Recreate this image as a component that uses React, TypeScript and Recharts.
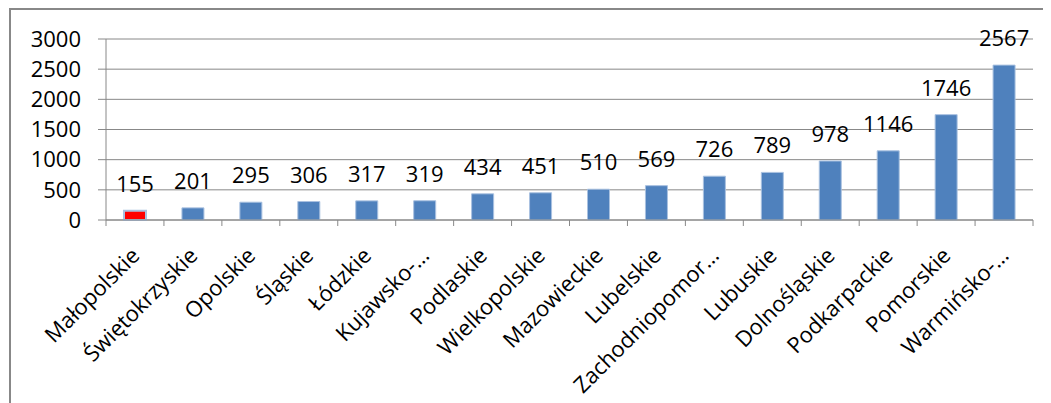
import React from 'react'
import { BarChart, Bar, XAxis, YAxis, CartesianGrid, LabelList, Cell } from 'recharts'

const regions = [
  'Małopolskie',
  'Świętokrzyskie',
  'Opolskie',
  'Śląskie',
  'Łódzkie',
  'Kujawsko-…',
  'Podlaskie',
  'Wielkopolskie',
  'Mazowieckie',
  'Lubelskie',
  'Zachodniopomor…',
  'Lubuskie',
  'Dolnośląskie',
  'Podkarpackie',
  'Pomorskie',
  'Warmińsko-…',
]
const counts = [155, 201, 295, 306, 317, 319, 434, 451, 510, 569, 726, 789, 978, 1146, 1746, 2567]
const yTicks = [0, 500, 1000, 1500, 2000, 2500, 3000]

const data = regions.map((name, i) => ({ name, value: counts[i] }))

const FONT = '"Open Sans", sans-serif'
const GRAY = '#888888'
const W = 1040
const H = 393
const M = { top: 29, right: 18, left: 0, bottom: 0 }
const Y_W = 95
const BAND = (W - M.right - Y_W) / regions.length

function RegionTick(props: any) {
  const { x, y, payload, index } = props
  const half = payload && payload.offset > 0 ? payload.offset : BAND / 2
  return (
    <g>
      <line x1={x - half} x2={x - half} y1={y - 8} y2={y - 2} stroke={GRAY} />
      {index === regions.length - 1 && (
        <line x1={x + half} x2={x + half} y1={y - 8} y2={y - 2} stroke={GRAY} />
      )}
      <text
        transform={`translate(${x + 6},${y + 29}) rotate(-45)`}
        textAnchor="end"
        fontFamily={FONT}
        fontSize={22}
        fill="#000"
      >
        {payload.value}
      </text>
    </g>
  )
}

export default function App() {
  return (
    <div
      style={{
        marginLeft: 1,
        width: 1042,
        height: 395,
        borderTop: `2px solid ${GRAY}`,
        borderLeft: `2px solid ${GRAY}`,
      }}
    >
      <BarChart width={W} height={H} data={data} margin={M} barCategoryGap={0}>
        <CartesianGrid vertical={false} stroke={GRAY} />
        <XAxis
          dataKey="name"
          interval={0}
          height={H - 210}
          axisLine={{ stroke: GRAY }}
          tickLine={false}
          tick={<RegionTick />}
        />
        <YAxis
          width={Y_W}
          domain={[0, 3000]}
          ticks={yTicks}
          interval={0}
          axisLine={{ stroke: GRAY }}
          tickLine={{ stroke: GRAY }}
          tickSize={8}
          tickMargin={17}
          tick={{ fontFamily: FONT, fontSize: 22, fill: '#000' }}
        />
        <Bar dataKey="value" barSize={22} fill="#4F81BD" stroke="#A9C1E0" strokeWidth={1} isAnimationActive={false}>
          {data.map((d, i) => (
            <Cell key={d.name} fill={i === 0 ? '#FF0000' : '#4F81BD'} stroke="#A9C1E0" strokeWidth={i === 0 ? 2 : 1} />
          ))}
          <LabelList dataKey="value" position="top" offset={19} fontFamily={FONT} fontSize={22} fill="#000" />
        </Bar>
      </BarChart>
    </div>
  )
}
